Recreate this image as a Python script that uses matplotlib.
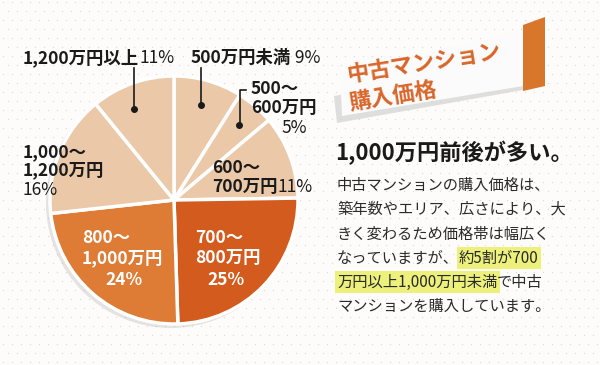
import numpy as np
import matplotlib.pyplot as plt
from matplotlib.patches import Polygon, Circle

plt.rcParams['font.family'] = ['Noto Sans CJK JP', 'DejaVu Sans']

W, H = 600, 365

# データ
labels = ['500万円未満', '500～600万円', '600～700万円', '700～800万円',
          '800～1,000万円', '1,000～1,200万円', '1,200万円以上']
shares = [9, 5, 11, 25, 24, 16, 11]
colors = ['#eac8a8', '#eac8a8', '#eac8a8', '#d35b1d', '#de7b35', '#eac8a8', '#eac8a8']

title_lines = ['中古マンション', '購入価格']
heading = '1,000万円前後が多い。'

ORANGE = '#d9662a'


def Y(y):
    return H - y


def chain(ax, x, y, parts, va='center'):
    # テキストを横に連結して描く
    first_text, first_kw = parts[0]
    prev = ax.text(x, y, first_text, ha='left', va=va, **first_kw)
    for txt, kw in parts[1:]:
        prev = ax.annotate(txt, xy=(1, 0.5), xycoords=prev, ha='left', va='center', **kw)
    return prev


fig = plt.figure(figsize=(6, 3.65), dpi=100, facecolor='#fdfcfa')
ax = fig.add_axes([0, 0, 1, 1])
ax.set_facecolor('#fdfcfa')

# 背景のドット模様
gx, gy = np.meshgrid(np.arange(3, W, 9.0), np.arange(3, H, 9.0))
gx = gx + (np.arange(gx.shape[0])[:, None] % 2) * 4.5
ax.scatter(gx.ravel(), gy.ravel(), s=0.8, color='#dcd8d3', lw=0, zorder=0)

cx, cy, R = 174, Y(200), 124

# 影
ax.add_patch(Circle((cx - 3, cy - 3), R + 1, color='#9a9a9a', alpha=0.25, lw=0, zorder=1))

wedges, _ = ax.pie(shares, colors=colors, startangle=90, counterclock=False,
                   center=(cx, cy), radius=R, frame=True,
                   wedgeprops=dict(edgecolor='white', linewidth=2.5, zorder=2))

# 引き出し線の点
total = sum(shares)
cum = np.cumsum(shares)
mid = (cum - np.array(shares) / 2) / total * 2 * np.pi


def dot(i, r=0.78, shift=0.0):
    a = mid[i] + shift
    return cx + r * R * np.sin(a), cy + r * R * np.cos(a)


bold = dict(fontsize=12.5, fontweight='bold', color='#1a1a1a')
reg = dict(fontsize=12.5, fontweight='normal', color='#1a1a1a')

# 1,200万円以上
x6, y6 = dot(6, 0.80, -0.07)
ax.plot([x6, x6], [y6, Y(68)], color='#1a1a1a', lw=1.2, zorder=4)
ax.plot(x6, y6, 'o', color='#1a1a1a', ms=4, zorder=4)
chain(ax, 23, Y(58), [('1,200万円以上', bold), ('11%', reg)])

# 500万円未満
x0, y0 = dot(0, 0.80)
ax.plot([x0, x0], [y0, Y(68)], color='#1a1a1a', lw=1.2, zorder=4)
ax.plot(x0, y0, 'o', color='#1a1a1a', ms=4, zorder=4)
chain(ax, 191, Y(58), [('500万円未満', bold), (' 9%', reg)])

# 500～600万円
x1, y1 = dot(1, 0.80)
ax.plot([x1 + 1, x1 + 1, x1 + 7], [y1, Y(90), Y(90)], color='#1a1a1a', lw=1.2, zorder=4)
ax.plot(x1, y1, 'o', color='#1a1a1a', ms=4, zorder=4)
ax.text(251, Y(89), '500～', ha='left', va='center', **bold)
ax.text(251, Y(108), '600万円', ha='left', va='center', **bold)
ax.text(294, Y(128), '5%', ha='center', va='center', **reg)

# 600～700万円
ax.text(212, Y(168), '600～', ha='left', va='center', **bold)
chain(ax, 212, Y(187), [('700万円', bold), ('11%', reg)])

# 1,000～1,200万円
ax.text(23, Y(152), '1,000～', ha='left', va='center', **bold)
ax.text(23, Y(170), '1,200万円', ha='left', va='center', **bold)
ax.text(23, Y(190), '16%', ha='left', va='center', **reg)

# 内側ラベル
wb = dict(fontsize=12.5, fontweight='bold', color='white', zorder=5)
ax.text(82, Y(238), '800～', ha='left', va='center', **wb)
ax.text(82, Y(258), '1,000万円', ha='left', va='center', **wb)
ax.text(124, Y(280), '24%', ha='center', va='center', **wb)
ax.text(195, Y(238), '700～', ha='left', va='center', **wb)
ax.text(195, Y(258), '800万円', ha='left', va='center', **wb)
ax.text(226, Y(280), '25%', ha='center', va='center', **wb)

# タイトルのリボン
ax.add_patch(Polygon([(334, Y(96)), (523, Y(62)), (523, Y(90)), (337, Y(123))],
                     closed=True, color='#d2d2d2', alpha=0.7, lw=0, zorder=2))
ax.add_patch(Polygon([(340, Y(72)), (523, Y(30)), (523, Y(86)), (342, Y(116))],
                     closed=True, color='#fbfbfb', lw=0, zorder=3))
ax.add_patch(Polygon([(523, Y(25)), (545, Y(17)), (545, Y(86)), (523, Y(91))],
                     closed=True, color='#d8762c', lw=0, zorder=3))
tb = dict(fontsize=16, fontweight='bold', color=ORANGE, rotation=9,
          rotation_mode='anchor', ha='left', va='baseline', zorder=4)
ax.text(348, Y(82), title_lines[0], **tb)
ax.text(350, Y(110), title_lines[1], **tb)

# 見出し
ax.text(335, Y(153), heading, ha='left', va='center', fontsize=16,
        fontweight='bold', color='#1a1a1a')

# 本文
body = dict(fontsize=11, color='#2a2a2a')
hl = dict(fontsize=11, color='#2a2a2a',
          bbox=dict(boxstyle='square,pad=0.15', fc='#eef07c', ec='none'))
ax.text(337, Y(185), '中古マンションの購入価格は、', ha='left', va='center', **body)
ax.text(337, Y(209), '築年数やエリア、広さにより、大', ha='left', va='center', **body)
ax.text(337, Y(234), 'きく変わるため価格帯は幅広く', ha='left', va='center', **body)
chain(ax, 337, Y(258), [('なっていますが、', body), ('約5割が700', hl)])
chain(ax, 337, Y(282), [('万円以上1,000万円未満', hl), ('で中古', body)])
ax.text(337, Y(306), 'マンションを購入しています。', ha='left', va='center', **body)

ax.set_xlim(0, W)
ax.set_ylim(0, H)
ax.set_aspect('auto')
ax.axis('off')

plt.savefig('out.png', dpi=100, facecolor=fig.get_facecolor())
plt.close()
